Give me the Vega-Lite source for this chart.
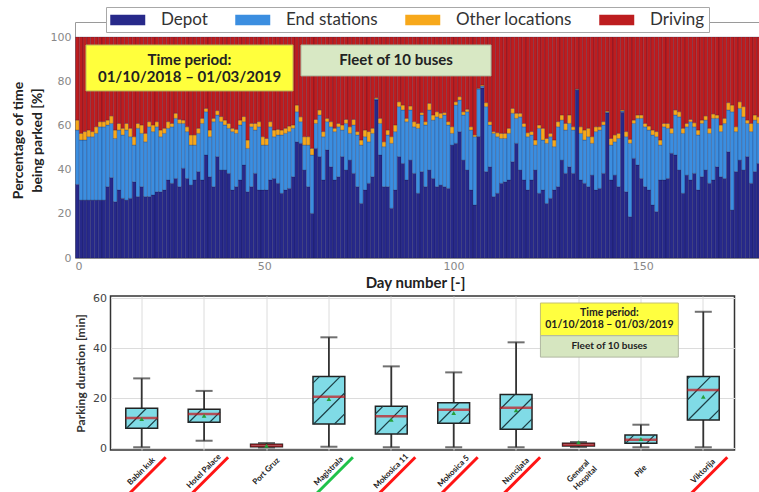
{
  "$schema": "https://vega.github.io/schema/vega-lite/v6.json",
  "background": "white",
  "padding": {"left": 10, "top": 6, "right": 0, "bottom": 0},
  "config": {
    "font": "Lato",
    "view": {"stroke": null},
    "axis": {"labelFont": "DejaVu Sans", "titleFont": "Lato", "titleFontWeight": "bold"}
  },
  "datasets": {
    "daily": [
      {"day":0,"Depot":33.3,"End stations":24.6,"Other locations":4.5,"Driving":37.6},
      {"day":1,"Depot":26.2,"End stations":27.2,"Other locations":3.0,"Driving":43.6},
      {"day":2,"Depot":26.2,"End stations":27.2,"Other locations":3.8,"Driving":42.8},
      {"day":3,"Depot":26.2,"End stations":28.7,"Other locations":3.0,"Driving":42.1},
      {"day":4,"Depot":26.2,"End stations":28.7,"Other locations":2.3,"Driving":42.8},
      {"day":5,"Depot":26.2,"End stations":30.2,"Other locations":3.0,"Driving":40.6},
      {"day":6,"Depot":26.2,"End stations":33.2,"Other locations":2.3,"Driving":38.3},
      {"day":7,"Depot":26.2,"End stations":33.2,"Other locations":2.3,"Driving":38.3},
      {"day":8,"Depot":32.3,"End stations":27.9,"Other locations":2.2,"Driving":37.6},
      {"day":9,"Depot":36.4,"End stations":24.5,"Other locations":3.4,"Driving":35.7},
      {"day":10,"Depot":25.5,"End stations":28.6,"Other locations":3.8,"Driving":42.1},
      {"day":11,"Depot":30.8,"End stations":27.1,"Other locations":3.0,"Driving":39.1},
      {"day":12,"Depot":27.0,"End stations":28.7,"Other locations":3.0,"Driving":41.3},
      {"day":13,"Depot":26.2,"End stations":31.7,"Other locations":3.0,"Driving":39.1},
      {"day":14,"Depot":27.0,"End stations":27.9,"Other locations":3.8,"Driving":41.3},
      {"day":15,"Depot":34.5,"End stations":16.6,"Other locations":3.8,"Driving":45.1},
      {"day":16,"Depot":27.8,"End stations":30.9,"Other locations":2.2,"Driving":39.1},
      {"day":17,"Depot":32.3,"End stations":24.1,"Other locations":3.8,"Driving":39.8},
      {"day":18,"Depot":27.8,"End stations":24.8,"Other locations":3.8,"Driving":43.6},
      {"day":19,"Depot":27.8,"End stations":31.6,"Other locations":2.3,"Driving":38.3},
      {"day":20,"Depot":28.5,"End stations":28.7,"Other locations":3.0,"Driving":39.8},
      {"day":21,"Depot":30.0,"End stations":29.4,"Other locations":2.3,"Driving":38.3},
      {"day":22,"Depot":30.0,"End stations":24.9,"Other locations":3.0,"Driving":42.1},
      {"day":23,"Depot":30.8,"End stations":25.6,"Other locations":2.3,"Driving":41.3},
      {"day":24,"Depot":35.3,"End stations":23.4,"Other locations":3.0,"Driving":38.3},
      {"day":25,"Depot":33.8,"End stations":25.6,"Other locations":1.5,"Driving":39.1},
      {"day":26,"Depot":36.0,"End stations":27.2,"Other locations":2.3,"Driving":34.5},
      {"day":27,"Depot":32.3,"End stations":28.6,"Other locations":1.8,"Driving":37.3},
      {"day":28,"Depot":40.6,"End stations":20.3,"Other locations":1.5,"Driving":37.6},
      {"day":29,"Depot":36.0,"End stations":21.2,"Other locations":2.2,"Driving":40.6},
      {"day":30,"Depot":33.0,"End stations":18.1,"Other locations":4.6,"Driving":44.3},
      {"day":31,"Depot":35.3,"End stations":15.8,"Other locations":4.6,"Driving":44.3},
      {"day":32,"Depot":39.1,"End stations":17.3,"Other locations":2.3,"Driving":41.3},
      {"day":33,"Depot":35.3,"End stations":25.6,"Other locations":2.3,"Driving":36.8},
      {"day":34,"Depot":46.6,"End stations":19.6,"Other locations":1.5,"Driving":32.3},
      {"day":35,"Depot":36.8,"End stations":18.1,"Other locations":3.0,"Driving":42.1},
      {"day":36,"Depot":32.3,"End stations":29.4,"Other locations":1.5,"Driving":36.8},
      {"day":37,"Depot":45.9,"End stations":18.8,"Other locations":2.0,"Driving":33.3},
      {"day":38,"Depot":39.8,"End stations":21.9,"Other locations":2.3,"Driving":36.0},
      {"day":39,"Depot":39.8,"End stations":20.4,"Other locations":2.2,"Driving":37.6},
      {"day":40,"Depot":38.3,"End stations":20.4,"Other locations":2.2,"Driving":39.1},
      {"day":41,"Depot":30.8,"End stations":26.4,"Other locations":1.5,"Driving":41.3},
      {"day":42,"Depot":32.3,"End stations":24.1,"Other locations":1.8,"Driving":41.8},
      {"day":43,"Depot":35.3,"End stations":24.9,"Other locations":2.2,"Driving":37.6},
      {"day":44,"Depot":42.1,"End stations":19.6,"Other locations":2.3,"Driving":36.0},
      {"day":45,"Depot":30.0,"End stations":19.6,"Other locations":3.8,"Driving":46.6},
      {"day":46,"Depot":32.3,"End stations":27.1,"Other locations":1.5,"Driving":39.1},
      {"day":47,"Depot":38.3,"End stations":19.6,"Other locations":3.0,"Driving":39.1},
      {"day":48,"Depot":30.8,"End stations":28.6,"Other locations":2.3,"Driving":38.3},
      {"day":49,"Depot":30.8,"End stations":20.3,"Other locations":3.8,"Driving":45.1},
      {"day":50,"Depot":30.8,"End stations":20.3,"Other locations":3.0,"Driving":45.9},
      {"day":51,"Depot":35.3,"End stations":24.1,"Other locations":2.3,"Driving":38.3},
      {"day":52,"Depot":36.0,"End stations":18.9,"Other locations":3.0,"Driving":42.1},
      {"day":53,"Depot":33.8,"End stations":21.9,"Other locations":2.5,"Driving":41.8},
      {"day":54,"Depot":29.3,"End stations":26.4,"Other locations":2.2,"Driving":42.1},
      {"day":55,"Depot":30.8,"End stations":25.6,"Other locations":2.3,"Driving":41.3},
      {"day":56,"Depot":31.5,"End stations":25.7,"Other locations":2.5,"Driving":40.3},
      {"day":57,"Depot":36.8,"End stations":21.9,"Other locations":1.5,"Driving":39.8},
      {"day":58,"Depot":52.6,"End stations":13.6,"Other locations":3.0,"Driving":30.8},
      {"day":59,"Depot":51.9,"End stations":9.8,"Other locations":2.2,"Driving":36.1},
      {"day":60,"Depot":39.8,"End stations":11.3,"Other locations":3.8,"Driving":45.1},
      {"day":61,"Depot":32.3,"End stations":18.8,"Other locations":3.8,"Driving":45.1},
      {"day":62,"Depot":20.2,"End stations":26.4,"Other locations":3.0,"Driving":50.4},
      {"day":63,"Depot":49.6,"End stations":11.3,"Other locations":1.8,"Driving":37.3},
      {"day":64,"Depot":45.9,"End stations":18.8,"Other locations":2.3,"Driving":33.0},
      {"day":65,"Depot":35.3,"End stations":19.6,"Other locations":2.3,"Driving":42.8},
      {"day":66,"Depot":48.9,"End stations":12.8,"Other locations":1.5,"Driving":36.8},
      {"day":67,"Depot":41.3,"End stations":18.1,"Other locations":2.3,"Driving":38.3},
      {"day":68,"Depot":35.3,"End stations":21.9,"Other locations":1.5,"Driving":41.3},
      {"day":69,"Depot":36.8,"End stations":22.6,"Other locations":1.5,"Driving":39.1},
      {"day":70,"Depot":45.9,"End stations":12.0,"Other locations":2.3,"Driving":39.8},
      {"day":71,"Depot":39.8,"End stations":21.1,"Other locations":1.8,"Driving":37.3},
      {"day":72,"Depot":44.3,"End stations":12.1,"Other locations":3.0,"Driving":40.6},
      {"day":73,"Depot":38.3,"End stations":21.9,"Other locations":2.5,"Driving":37.3},
      {"day":74,"Depot":32.3,"End stations":23.4,"Other locations":1.5,"Driving":42.8},
      {"day":75,"Depot":24.7,"End stations":26.4,"Other locations":2.3,"Driving":46.6},
      {"day":76,"Depot":30.8,"End stations":24.1,"Other locations":3.0,"Driving":42.1},
      {"day":77,"Depot":33.8,"End stations":18.8,"Other locations":4.6,"Driving":42.8},
      {"day":78,"Depot":36.8,"End stations":19.6,"Other locations":2.3,"Driving":41.3},
      {"day":79,"Depot":71.5,"End stations":0.5,"Other locations":0.5,"Driving":27.5},
      {"day":80,"Depot":46.6,"End stations":14.3,"Other locations":2.3,"Driving":36.8},
      {"day":81,"Depot":32.3,"End stations":18.1,"Other locations":2.2,"Driving":47.4},
      {"day":82,"Depot":32.3,"End stations":23.4,"Other locations":2.2,"Driving":42.1},
      {"day":83,"Depot":22.5,"End stations":29.4,"Other locations":3.0,"Driving":45.1},
      {"day":84,"Depot":30.8,"End stations":26.4,"Other locations":3.0,"Driving":39.8},
      {"day":85,"Depot":45.9,"End stations":22.6,"Other locations":2.2,"Driving":29.3},
      {"day":86,"Depot":42.8,"End stations":24.2,"Other locations":2.2,"Driving":30.8},
      {"day":87,"Depot":35.3,"End stations":26.4,"Other locations":1.5,"Driving":36.8},
      {"day":88,"Depot":44.3,"End stations":22.7,"Other locations":1.8,"Driving":31.2},
      {"day":89,"Depot":38.3,"End stations":21.1,"Other locations":2.3,"Driving":38.3},
      {"day":90,"Depot":29.3,"End stations":29.4,"Other locations":2.2,"Driving":39.1},
      {"day":91,"Depot":39.1,"End stations":25.6,"Other locations":1.1,"Driving":34.2},
      {"day":92,"Depot":32.3,"End stations":27.9,"Other locations":1.5,"Driving":38.3},
      {"day":93,"Depot":39.8,"End stations":27.2,"Other locations":3.0,"Driving":30.0},
      {"day":94,"Depot":36.0,"End stations":26.4,"Other locations":2.3,"Driving":35.3},
      {"day":95,"Depot":32.3,"End stations":31.6,"Other locations":2.3,"Driving":33.8},
      {"day":96,"Depot":33.0,"End stations":30.2,"Other locations":2.3,"Driving":34.5},
      {"day":97,"Depot":32.3,"End stations":32.4,"Other locations":1.1,"Driving":34.2},
      {"day":98,"Depot":31.5,"End stations":28.7,"Other locations":1.5,"Driving":38.3},
      {"day":99,"Depot":51.1,"End stations":5.3,"Other locations":3.0,"Driving":40.6},
      {"day":100,"Depot":51.9,"End stations":17.3,"Other locations":1.5,"Driving":29.3},
      {"day":101,"Depot":57.2,"End stations":14.3,"Other locations":1.5,"Driving":27.0},
      {"day":102,"Depot":44.3,"End stations":20.4,"Other locations":1.5,"Driving":33.8},
      {"day":103,"Depot":39.8,"End stations":26.4,"Other locations":1.1,"Driving":32.7},
      {"day":104,"Depot":30.8,"End stations":27.1,"Other locations":1.5,"Driving":40.6},
      {"day":105,"Depot":24.0,"End stations":30.9,"Other locations":0.8,"Driving":44.3},
      {"day":106,"Depot":55.0,"End stations":21.5,"Other locations":0.3,"Driving":23.2},
      {"day":107,"Depot":77.0,"End stations":0.8,"Other locations":0.5,"Driving":21.7},
      {"day":108,"Depot":39.1,"End stations":29.4,"Other locations":1.8,"Driving":29.7},
      {"day":109,"Depot":41.3,"End stations":18.9,"Other locations":1.5,"Driving":38.3},
      {"day":110,"Depot":27.8,"End stations":28.6,"Other locations":0.8,"Driving":42.8},
      {"day":111,"Depot":29.3,"End stations":25.6,"Other locations":1.8,"Driving":43.3},
      {"day":112,"Depot":33.8,"End stations":20.3,"Other locations":2.3,"Driving":43.6},
      {"day":113,"Depot":34.5,"End stations":19.6,"Other locations":2.3,"Driving":43.6},
      {"day":114,"Depot":35.3,"End stations":21.1,"Other locations":2.3,"Driving":41.3},
      {"day":115,"Depot":43.6,"End stations":21.9,"Other locations":2.2,"Driving":32.3},
      {"day":116,"Depot":51.9,"End stations":11.3,"Other locations":2.3,"Driving":34.5},
      {"day":117,"Depot":39.8,"End stations":24.1,"Other locations":1.6,"Driving":34.5},
      {"day":118,"Depot":35.3,"End stations":24.1,"Other locations":1.5,"Driving":39.1},
      {"day":119,"Depot":30.8,"End stations":24.1,"Other locations":1.8,"Driving":43.3},
      {"day":120,"Depot":35.3,"End stations":20.4,"Other locations":1.5,"Driving":42.8},
      {"day":121,"Depot":39.8,"End stations":11.3,"Other locations":2.3,"Driving":46.6},
      {"day":122,"Depot":29.3,"End stations":29.4,"Other locations":1.5,"Driving":39.8},
      {"day":123,"Depot":30.8,"End stations":22.6,"Other locations":5.3,"Driving":41.3},
      {"day":124,"Depot":24.7,"End stations":27.2,"Other locations":2.2,"Driving":45.9},
      {"day":125,"Depot":27.0,"End stations":27.9,"Other locations":1.5,"Driving":43.6},
      {"day":126,"Depot":30.8,"End stations":19.6,"Other locations":3.0,"Driving":46.6},
      {"day":127,"Depot":32.3,"End stations":27.1,"Other locations":2.3,"Driving":38.3},
      {"day":128,"Depot":44.3,"End stations":18.1,"Other locations":2.3,"Driving":35.3},
      {"day":129,"Depot":38.3,"End stations":19.6,"Other locations":3.0,"Driving":39.1},
      {"day":130,"Depot":41.3,"End stations":19.6,"Other locations":3.8,"Driving":35.3},
      {"day":131,"Depot":38.3,"End stations":19.6,"Other locations":1.5,"Driving":40.6},
      {"day":132,"Depot":76.0,"End stations":0.3,"Other locations":0.2,"Driving":23.5},
      {"day":133,"Depot":35.3,"End stations":21.1,"Other locations":3.0,"Driving":40.6},
      {"day":134,"Depot":33.8,"End stations":19.6,"Other locations":4.5,"Driving":42.1},
      {"day":135,"Depot":32.3,"End stations":22.6,"Other locations":3.8,"Driving":41.3},
      {"day":136,"Depot":37.5,"End stations":14.4,"Other locations":3.0,"Driving":45.1},
      {"day":137,"Depot":30.8,"End stations":26.4,"Other locations":2.2,"Driving":40.6},
      {"day":138,"Depot":31.5,"End stations":26.4,"Other locations":1.5,"Driving":40.6},
      {"day":139,"Depot":38.3,"End stations":21.9,"Other locations":1.5,"Driving":38.3},
      {"day":140,"Depot":65.6,"End stations":0.4,"Other locations":0.5,"Driving":33.5},
      {"day":141,"Depot":35.3,"End stations":15.8,"Other locations":3.0,"Driving":45.9},
      {"day":142,"Depot":37.5,"End stations":15.1,"Other locations":3.1,"Driving":44.3},
      {"day":143,"Depot":32.3,"End stations":21.8,"Other locations":2.3,"Driving":43.6},
      {"day":144,"Depot":66.0,"End stations":0.5,"Other locations":0.5,"Driving":33.0},
      {"day":145,"Depot":30.0,"End stations":24.9,"Other locations":2.3,"Driving":42.8},
      {"day":146,"Depot":18.7,"End stations":33.2,"Other locations":1.8,"Driving":46.3},
      {"day":147,"Depot":45.1,"End stations":15.8,"Other locations":1.5,"Driving":37.6},
      {"day":148,"Depot":42.1,"End stations":21.1,"Other locations":1.5,"Driving":35.3},
      {"day":149,"Depot":36.0,"End stations":27.2,"Other locations":1.5,"Driving":35.3},
      {"day":150,"Depot":32.3,"End stations":27.1,"Other locations":1.5,"Driving":39.1},
      {"day":151,"Depot":30.8,"End stations":27.1,"Other locations":1.8,"Driving":40.3},
      {"day":152,"Depot":24.0,"End stations":31.7,"Other locations":2.2,"Driving":42.1},
      {"day":153,"Depot":21.0,"End stations":33.9,"Other locations":2.3,"Driving":42.8},
      {"day":154,"Depot":35.3,"End stations":15.8,"Other locations":2.3,"Driving":46.6},
      {"day":155,"Depot":35.3,"End stations":24.1,"Other locations":1.5,"Driving":39.1},
      {"day":156,"Depot":36.0,"End stations":22.7,"Other locations":2.2,"Driving":39.1},
      {"day":157,"Depot":47.4,"End stations":9.0,"Other locations":2.3,"Driving":41.3},
      {"day":158,"Depot":46.6,"End stations":18.1,"Other locations":2.3,"Driving":33.0},
      {"day":159,"Depot":39.8,"End stations":24.1,"Other locations":2.3,"Driving":33.8},
      {"day":160,"Depot":29.3,"End stations":27.1,"Other locations":2.3,"Driving":41.3},
      {"day":161,"Depot":37.5,"End stations":21.9,"Other locations":1.5,"Driving":39.1},
      {"day":162,"Depot":35.3,"End stations":26.4,"Other locations":1.0,"Driving":37.3},
      {"day":163,"Depot":38.3,"End stations":21.1,"Other locations":1.8,"Driving":38.8},
      {"day":164,"Depot":30.8,"End stations":24.9,"Other locations":2.2,"Driving":42.1},
      {"day":165,"Depot":36.8,"End stations":24.1,"Other locations":1.5,"Driving":37.6},
      {"day":166,"Depot":39.8,"End stations":22.6,"Other locations":1.9,"Driving":35.7},
      {"day":167,"Depot":33.8,"End stations":22.6,"Other locations":2.3,"Driving":41.3},
      {"day":168,"Depot":35.3,"End stations":27.9,"Other locations":2.0,"Driving":34.8},
      {"day":169,"Depot":41.3,"End stations":21.9,"Other locations":1.5,"Driving":35.3},
      {"day":170,"Depot":36.8,"End stations":20.4,"Other locations":3.0,"Driving":39.8},
      {"day":171,"Depot":36.0,"End stations":24.9,"Other locations":2.3,"Driving":36.8},
      {"day":172,"Depot":48.1,"End stations":18.9,"Other locations":3.3,"Driving":29.7},
      {"day":173,"Depot":21.7,"End stations":44.5,"Other locations":3.0,"Driving":30.8},
      {"day":174,"Depot":39.1,"End stations":18.1,"Other locations":2.2,"Driving":40.6},
      {"day":175,"Depot":44.3,"End stations":23.4,"Other locations":3.0,"Driving":29.3},
      {"day":176,"Depot":39.8,"End stations":24.1,"Other locations":4.6,"Driving":31.5},
      {"day":177,"Depot":45.9,"End stations":15.0,"Other locations":1.5,"Driving":37.6},
      {"day":178,"Depot":33.8,"End stations":23.4,"Other locations":3.7,"Driving":39.1},
      {"day":179,"Depot":39.1,"End stations":23.3,"Other locations":2.3,"Driving":35.3},
      {"day":180,"Depot":42.8,"End stations":18.1,"Other locations":3.0,"Driving":36.1}
    ],
    "parking": [
      {"location":"Babin kuk","lower":0.4,"q1":8.0,"median":12.1,"q3":16.0,"upper":27.9,"mean":11.7,"flag":"red"},
      {"location":"Hotel Palace","lower":3.0,"q1":10.4,"median":13.7,"q3":15.6,"upper":22.9,"mean":13.0,"flag":"red"},
      {"location":"Port Gruz","lower":0.3,"q1":0.6,"median":1.1,"q3":1.6,"upper":2.1,"mean":1.0,"flag":"none"},
      {"location":"Magistrala","lower":0.6,"q1":9.7,"median":20.6,"q3":28.7,"upper":44.3,"mean":19.7,"flag":"green"},
      {"location":"Mokosica 11","lower":0.4,"q1":5.7,"median":12.8,"q3":16.8,"upper":32.7,"mean":11.4,"flag":"red"},
      {"location":"Mokosica 5","lower":0.4,"q1":10.0,"median":15.4,"q3":18.2,"upper":30.3,"mean":14.1,"flag":"red"},
      {"location":"Nuncijata","lower":0.4,"q1":7.6,"median":16.2,"q3":21.5,"upper":42.3,"mean":15.2,"flag":"red"},
      {"location":"General Hospital","lower":0.5,"q1":0.9,"median":1.4,"q3":2.0,"upper":2.5,"mean":2.4,"flag":"none"},
      {"location":"Pile","lower":0.4,"q1":2.0,"median":3.4,"q3":5.3,"upper":9.4,"mean":3.7,"flag":"none"},
      {"location":"Viktorija","lower":0.4,"q1":11.3,"median":23.3,"q3":28.7,"upper":54.5,"mean":20.6,"flag":"red"}
    ]
  },
  "bounds": "flush",
  "center": true,
  "spacing": 38,
  "vconcat": [
    {
      "width": 695,
      "height": 236,
      "view": {"stroke": "#9a9a9a", "strokeWidth": 1},
      "layer": [
        {
          "data": {"name": "daily"},
          "transform": [
            {"fold": ["Depot", "End stations", "Other locations", "Driving"], "as": ["category", "share"]},
            {"window": [{"op": "row_number", "as": "rank"}], "groupby": ["day"]}
          ],
          "mark": {"type": "bar", "stroke": "#14143a", "strokeWidth": 0.5, "strokeOpacity": 0.45, "binSpacing": 0},
          "encoding": {
            "x": {
              "field": "day", "type": "quantitative",
              "bin": {"step": 1, "extent": [0, 181]},
              "scale": {"domain": [0, 183.6], "nice": false},
              "axis": {
                "values": [0, 50, 100, 150], "title": "Day number [-]",
                "grid": false, "ticks": false, "domain": false,
                "labelColor": "#888", "labelFontSize": 11, "labelPadding": 2,
                "titleFontSize": 15, "titleColor": "#222", "titlePadding": 4, "titleX": 340
              }
            },
            "y": {
              "field": "share", "type": "quantitative", "stack": "zero",
              "scale": {"domain": [0, 106.8], "nice": false},
              "axis": {
                "values": [0, 20, 40, 60, 80, 100],
                "title": ["Percentage of time", "being parked [%]"],
                "grid": false, "ticks": false, "domain": false,
                "labelColor": "#888", "labelFontSize": 11, "labelPadding": 4,
                "titleFontSize": 14, "titleColor": "#222", "titlePadding": 6, "titleLineHeight": 19
              }
            },
            "color": {
              "field": "category", "type": "nominal",
              "scale": {
                "domain": ["Depot", "End stations", "Other locations", "Driving"],
                "range": ["#27298a", "#3b8ee0", "#f7a81b", "#bd1d1f"]
              },
              "legend": {
                "orient": "none", "legendX": 31, "legendY": -15, "direction": "horizontal",
                "title": null, "strokeColor": "#a8a8a8", "fillColor": "white", "padding": 4,
                "symbolType": "M-1,-0.6H3V0.6H-1Z", "symbolSize": 306, "symbolStrokeWidth": 0,
                "labelFont": "Lato", "labelFontSize": 17, "labelColor": "#333",
                "labelOffset": 33, "columnPadding": 27
              }
            },
            "order": {"field": "rank", "type": "quantitative", "sort": "ascending"}
          }
        },
        {
          "data": {"values": [{}]},
          "mark": {"type": "rect", "fill": "#ffff3c", "stroke": "#b9b45a", "strokeWidth": 1},
          "encoding": {
            "x": {"datum": 2.9}, "x2": {"datum": 57.6},
            "y": {"datum": 75.6}, "y2": {"datum": 96.4}
          }
        },
        {
          "data": {"values": [{}]},
          "mark": {"type": "text", "font": "Lato", "fontWeight": "bold", "fontSize": 15, "lineHeight": 17, "color": "#222"},
          "encoding": {
            "x": {"datum": 30.25}, "y": {"datum": 89.6},
            "text": {"value": ["Time period:", "01/10/2018 – 01/03/2019"]}
          }
        },
        {
          "data": {"values": [{}]},
          "mark": {"type": "rect", "fill": "#d8e8c4", "stroke": "#a9b59a", "strokeWidth": 1},
          "encoding": {
            "x": {"datum": 59.7}, "x2": {"datum": 109.9},
            "y": {"datum": 82.4}, "y2": {"datum": 96.4}
          }
        },
        {
          "data": {"values": [{}]},
          "mark": {"type": "text", "font": "Lato", "fontWeight": "bold", "fontSize": 15, "color": "#222"},
          "encoding": {
            "x": {"datum": 84.8}, "y": {"datum": 89.4},
            "text": {"value": "Fleet of 10 buses"}
          }
        }
      ]
    },
    {
      "width": 624,
      "height": 154,
      "view": {"stroke": "#333", "strokeWidth": 1.5},
      "resolve": {"scale": {"x": "independent"}, "axis": {"x": "independent"}},
      "layer": [
        {
          "data": {"name": "parking"},
          "encoding": {
            "x": {
              "field": "location", "type": "nominal", "sort": null,
              "scale": {"paddingInner": 0, "paddingOuter": 0},
              "axis": {
                "title": null, "labelAngle": -45, "labelAlign": "center", "labelBaseline": "middle",
                "labelPadding": 21, "ticks": false, "domain": false,
                "grid": true, "gridColor": "#dcdcdc", "bandPosition": 0.5,
                "labelFont": "Lato", "labelFontWeight": "bold", "labelFontSize": 8, "labelColor": "#222",
                "labelExpr": "datum.label == 'General Hospital' ? ['General', 'Hospital'] : datum.label"
              }
            }
          },
          "layer": [
            {
              "mark": {"type": "rule", "color": "#333", "strokeWidth": 1.8},
              "encoding": {
                "y": {
                  "field": "lower", "type": "quantitative",
                  "scale": {"domain": [-0.7, 60.8], "nice": false},
                  "axis": {
                    "values": [0, 10, 20, 30, 40, 50, 60], "grid": true, "gridColor": "#dcdcdc",
                    "ticks": false, "domain": false, "labelColor": "#444", "labelFontSize": 11, "labelPadding": 4,
                    "title": "Parking duration [min]", "titleFontSize": 12, "titleColor": "#333", "titlePadding": 5
                  }
                },
                "y2": {"field": "upper"}
              }
            },
            {
              "mark": {"type": "tick", "color": "#333", "size": 17, "thickness": 2},
              "encoding": {"y": {"field": "lower", "type": "quantitative"}}
            },
            {
              "mark": {"type": "tick", "color": "#333", "size": 17, "thickness": 2},
              "encoding": {"y": {"field": "upper", "type": "quantitative"}}
            },
            {
              "mark": {"type": "bar", "width": {"band": 0.51}, "fill": "#80dbe6", "stroke": "#222", "strokeWidth": 1.5},
              "encoding": {
                "y": {"field": "q1", "type": "quantitative"},
                "y2": {"field": "q3"}
              }
            },
            {
              "mark": {"type": "point", "filled": false, "stroke": "#1d3f46", "strokeWidth": 1.2, "size": 1024, "opacity": 1},
              "encoding": {
                "y": {"field": "q1", "type": "quantitative"},
                "shape": {
                  "field": "location", "type": "nominal", "legend": null,
                  "scale": {
                    "domain": ["Babin kuk", "Hotel Palace", "Port Gruz", "Magistrala", "Mokosica 11", "Mokosica 5", "Nuncijata", "General Hospital", "Pile", "Viktorija"],
                    "range": [
                      "M0.35,0L1,-0.65M-0.95,0L0.3,-1.25",
                      "M0.35,0L1,-0.65M-0.95,0L-0.14,-0.81",
                      "M0,0",
                      "M0.35,0L1,-0.65M-0.95,0L1,-1.95M-1,-1.25L0.72,-2.97M-1,-2.55L-0.58,-2.97",
                      "M0.35,0L1,-0.65M-0.95,0L0.79,-1.74M-1,-1.25L-0.51,-1.74",
                      "M0.35,0L1,-0.65M-0.95,0L0.33,-1.28",
                      "M0.35,0L1,-0.65M-0.95,0L1,-1.95M-1,-1.25L-0.08,-2.17",
                      "M0,0",
                      "M0.35,0L0.87,-0.52M-0.95,0L-0.43,-0.52",
                      "M0.35,0L1,-0.65M-0.95,0L1,-1.95M-1,-1.25L0.47,-2.72M-1,-2.55L-0.83,-2.72"
                    ]
                  }
                }
              }
            },
            {
              "mark": {"type": "tick", "color": "#c8141a", "size": 32, "thickness": 2.5},
              "encoding": {"y": {"field": "median", "type": "quantitative"}}
            },
            {
              "mark": {"type": "point", "shape": "triangle-up", "filled": true, "color": "#25a03c", "size": 22, "opacity": 1},
              "encoding": {"y": {"field": "mean", "type": "quantitative"}}
            },
            {
              "mark": {"type": "point", "shape": "M-1,1L1,-1", "filled": false, "strokeWidth": 3, "size": 1936, "opacity": 1, "xOffset": 2, "yOffset": 31},
              "encoding": {
                "y": {"datum": 0},
                "stroke": {
                  "field": "flag", "type": "nominal",
                  "scale": {"domain": ["red", "green", "none"], "range": ["#ff1414", "#1fc24a", "rgba(0,0,0,0)"]},
                  "legend": null
                }
              }
            }
          ]
        },
        {
          "data": {"values": [{}]},
          "layer": [
            {
              "mark": {"type": "rect", "fill": "#ffff40", "stroke": "#c4c070", "strokeWidth": 1},
              "encoding": {
                "x": {"datum": 6.89, "type": "quantitative", "scale": {"domain": [0, 10], "nice": false}, "axis": null},
                "x2": {"datum": 9.1},
                "y": {"datum": 44.95}, "y2": {"datum": 58.0}
              }
            },
            {
              "mark": {"type": "rect", "fill": "#d6e6c0", "stroke": "#b0b8a0", "strokeWidth": 1},
              "encoding": {
                "x": {"datum": 6.89, "type": "quantitative"},
                "x2": {"datum": 9.1},
                "y": {"datum": 36.4}, "y2": {"datum": 44.95}
              }
            },
            {
              "mark": {"type": "text", "font": "Lato", "fontWeight": "bold", "fontSize": 10.5, "lineHeight": 12, "color": "#222"},
              "encoding": {
                "x": {"datum": 7.995, "type": "quantitative"},
                "y": {"datum": 54.0},
                "text": {"value": ["Time period:", "01/10/2018 – 01/03/2019"]}
              }
            },
            {
              "mark": {"type": "text", "font": "Lato", "fontWeight": "bold", "fontSize": 10, "color": "#222"},
              "encoding": {
                "x": {"datum": 7.995, "type": "quantitative"},
                "y": {"datum": 40.7},
                "text": {"value": "Fleet of 10 buses"}
              }
            }
          ]
        }
      ]
    }
  ]
}
